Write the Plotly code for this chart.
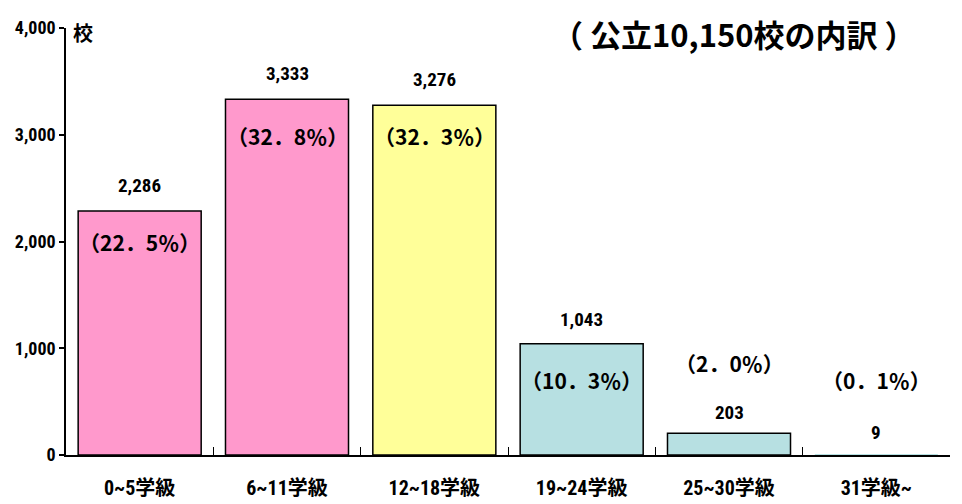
import plotly.graph_objects as go

categories = ["0~5学級", "6~11学級", "12~18学級", "19~24学級", "25~30学級", "31学級~"]
counts = [2286, 3333, 3276, 1043, 203, 9]
count_labels = ["2,286", "3,333", "3,276", "1,043", "203", "9"]
pct_labels = ["（22．5％）", "（32．8％）", "（32．3％）", "（10．3％）", "（2．0％）", "（0．1％）"]
colors = ["#FF99CC", "#FF99CC", "#FFFF99", "#B7E0E2", "#B7E0E2", "#B7E0E2"]
y_ticks = [0, 1000, 2000, 3000, 4000]
y_tick_text = ["0", "1,000", "2,000", "3,000", "4,000"]
title_text = "（ 公立10,150校の内訳 ）"
unit_text = "校"

pct_shift = [-31, -37, -31, -36, 70, 74]
count_shift = [25, 26, 26, 24, 21, 22]
outline_w = [1.5, 1.5, 1.5, 1.5, 1.5, 0]

NARROW = "Roboto Condensed, Liberation Sans Narrow, Noto Sans CJK JP, sans-serif"
CJK = "Noto Sans CJK JP, sans-serif"

# page body has an 8px margin: figure is drawn at (8, 8) in the window
fig = go.Figure()
fig.add_trace(go.Bar(
    x=categories, y=counts,
    marker=dict(color=colors, line=dict(color="black", width=outline_w)),
    width=0.835, hoverinfo="skip",
))

annotations = []
for c, v, t, s in zip(categories, counts, count_labels, count_shift):
    annotations.append(dict(x=c, y=v, xref="x", yref="y", text=f"<b>{t}</b>",
                            showarrow=False, yshift=s,
                            font=dict(family=NARROW, size=19, color="black")))
for c, v, t, s in zip(categories, counts, pct_labels, pct_shift):
    annotations.append(dict(x=c, y=v, xref="x", yref="y", text=f"<b>{t}</b>",
                            showarrow=False, yshift=s,
                            font=dict(family=CJK, size=21, color="black")))
annotations.append(dict(x=5 / 884, y=1.0, xref="paper", yref="paper", text=f"<b>{unit_text}</b>",
                        showarrow=False, xanchor="left", yanchor="middle", yshift=-4,
                        font=dict(family=CJK, size=20, color="black")))
annotations.append(dict(x=(918 - 66) / 884, y=(455 - 33) / 427, xref="paper", yref="paper",
                        text=f"<b>{title_text}</b>",
                        showarrow=False, xanchor="right", yanchor="middle",
                        font=dict(family=CJK, size=31, color="black")))

fig.update_layout(
    width=954, height=496,
    margin=dict(l=58, r=12, t=20, b=49),
    paper_bgcolor="white", plot_bgcolor="white",
    showlegend=False,
    bargap=0.165,
    annotations=annotations,
    shapes=[dict(type="rect", xref="paper", yref="paper",
                 x0=(72 - 66) / 884, x1=(297 - 66) / 884,
                 y0=(455 - 5) / 427, y1=1.2,
                 fillcolor="#FFC85F", line=dict(width=0), layer="above")],
    xaxis=dict(
        automargin=False,
        showline=True, linecolor="black", linewidth=2,
        ticks="inside", tickson="boundaries", ticklen=8, tickcolor="black", tickwidth=1,
        tickfont=dict(family=NARROW, size=20, color="black"),
        ticklabelstandoff=14,
        tickvals=categories, ticktext=[f"<b>{c}</b>" for c in categories],
        showgrid=False, fixedrange=True,
    ),
    yaxis=dict(
        automargin=False,
        range=[0, 4000], tickvals=y_ticks, ticktext=[f"<b>{t}</b>" for t in y_tick_text],
        showline=True, linecolor="black", linewidth=1.5,
        ticks="outside", ticklen=5, tickcolor="black", tickwidth=1.5,
        tickfont=dict(family=NARROW, size=18, color="black"),
        showgrid=False, zeroline=False, fixedrange=True,
    ),
)

fig.write_html("out.html")
